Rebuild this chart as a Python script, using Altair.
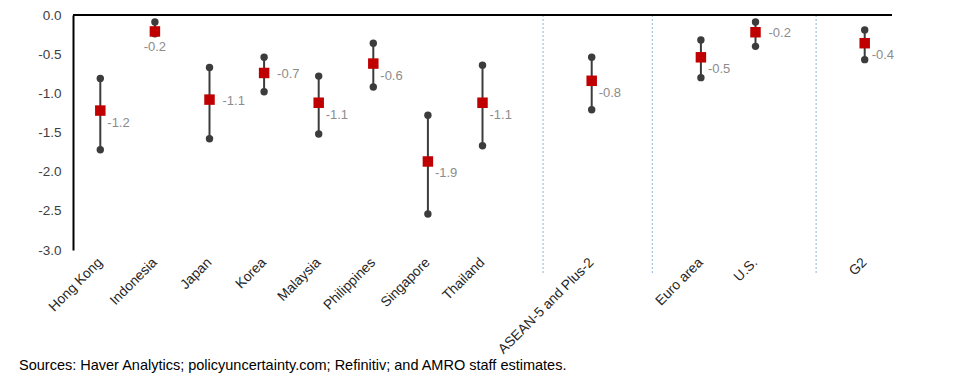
import altair as alt
import pandas as pd

categories = ["Hong Kong", "Indonesia", "Japan", "Korea", "Malaysia", "Philippines",
              "Singapore", "Thailand", "ASEAN-5 and Plus-2", "Euro area", "U.S.", "G2"]
high = [-0.81, -0.09, -0.67, -0.54, -0.78, -0.36, -1.28, -0.64, -0.54, -0.32, -0.09, -0.19]
mid = [-1.22, -0.21, -1.08, -0.74, -1.12, -0.62, -1.87, -1.12, -0.84, -0.54, -0.22, -0.36]
low = [-1.72, -0.24, -1.58, -0.98, -1.52, -0.92, -2.54, -1.67, -1.21, -0.80, -0.40, -0.57]
labels = ["-1.2", "-0.2", "-1.1", "-0.7", "-1.1", "-0.6", "-1.9", "-1.1", "-0.8", "-0.5", "-0.2", "-0.4"]

x_order = ["Hong Kong", "Indonesia", "Japan", "Korea", "Malaysia", "Philippines",
           "Singapore", "Thailand", "gap1", "ASEAN-5 and Plus-2", "gap2",
           "Euro area", "U.S.", "gap3", "G2"]
separators = ["gap1", "gap2", "gap3"]
y_ticks = [-3.0, -2.5, -2.0, -1.5, -1.0, -0.5, 0.0]
source_text = "Sources: Haver Analytics; policyuncertainty.com; Refinitiv; and AMRO staff estimates."

side_labels = ["Japan", "Korea", "U.S."]
below_labels = ["Indonesia"]

df = pd.DataFrame({"cat": categories, "high": high, "mid": mid, "low": low, "label": labels})
sep_df = pd.DataFrame({"cat": separators})
zero_df = pd.DataFrame({"v": [0.0]})

FONT = "Liberation Sans"
yscale = alt.Scale(domain=[-3, 0], nice=False, zero=False)
xenc = alt.X("cat:N", sort=x_order, scale=alt.Scale(domain=x_order), title=None)

base = alt.Chart(df)

zero_line = alt.Chart(zero_df).mark_rule(color="black", strokeWidth=2).encode(
    y=alt.Y("v:Q", scale=yscale, title=None)
)

sep = alt.Chart(sep_df).mark_rule(color="#8fb4dc", strokeWidth=1, strokeDash=[2, 2], xOffset=6).encode(
    x=xenc,
    y=alt.YDatum(0, scale=yscale, title=None),
    y2=alt.Y2Datum(-3.3),
)

bars = base.mark_rule(color="#3c3c3c", strokeWidth=2).encode(
    x=xenc,
    y=alt.Y("high:Q", scale=yscale, title=None),
    y2="low:Q",
)

dots_hi = base.mark_circle(color="#3c3c3c", size=55, opacity=1).encode(
    x=xenc, y=alt.Y("high:Q", scale=yscale, title=None))
dots_lo = base.mark_circle(color="#3c3c3c", size=55, opacity=1).encode(
    x=xenc, y=alt.Y("low:Q", scale=yscale, title=None))

squares = base.mark_square(color="#c00000", size=110, opacity=1).encode(
    x=xenc, y=alt.Y("mid:Q", scale=yscale, title=None))

text_common = dict(font=FONT, fontSize=13, color="#8c8c8c")
txt_main = base.transform_filter(
    {"not": {"field": "cat", "oneOf": side_labels + below_labels}}
).mark_text(align="left", dx=7, dy=12, **text_common).encode(
    x=xenc, y=alt.Y("mid:Q", scale=yscale, title=None), text="label:N")
txt_side = base.transform_filter(
    {"field": "cat", "oneOf": side_labels}
).mark_text(align="left", dx=13, dy=1, **text_common).encode(
    x=xenc, y=alt.Y("mid:Q", scale=yscale, title=None), text="label:N")
txt_below = base.transform_filter(
    {"field": "cat", "oneOf": below_labels}
).mark_text(align="center", dx=0, dy=16, **text_common).encode(
    x=xenc, y=alt.Y("mid:Q", scale=yscale, title=None), text="label:N")

chart = alt.layer(
    sep, zero_line, bars, dots_hi, dots_lo, squares, txt_main, txt_side, txt_below
).properties(
    width=819,
    height=235,
    autosize=alt.AutoSizeParams(type="none"),
    padding={"left": 65, "top": 7, "right": 55, "bottom": 126},
    title=alt.TitleParams(
        text=source_text, orient="bottom", anchor="start", frame="group",
        dx=-54, dy=-1, font=FONT, fontSize=14.5, fontWeight="normal", color="black",
    ),
).configure_view(stroke=None).configure_axis(
    grid=False, ticks=False,
).configure_axisY(
    domainColor="black", domainWidth=2, labelFont=FONT, labelFontSize=13.5,
    labelColor="#404040", labelPadding=12, values=y_ticks, format=".1f",
    labelExpr="replace(datum.label, '\\u2212', '-')",
).configure_axisX(
    domain=False, labelAngle=-45, labelAlign="right", labelBaseline="middle",
    labelFont=FONT, labelFontSize=13.8, labelColor="#262626", labelPadding=10,
    labelExpr="indexof(datum.label, 'gap') == 0 ? '' : datum.label",
)

chart.save("out.html", embed_options={"renderer": "svg", "actions": False})
